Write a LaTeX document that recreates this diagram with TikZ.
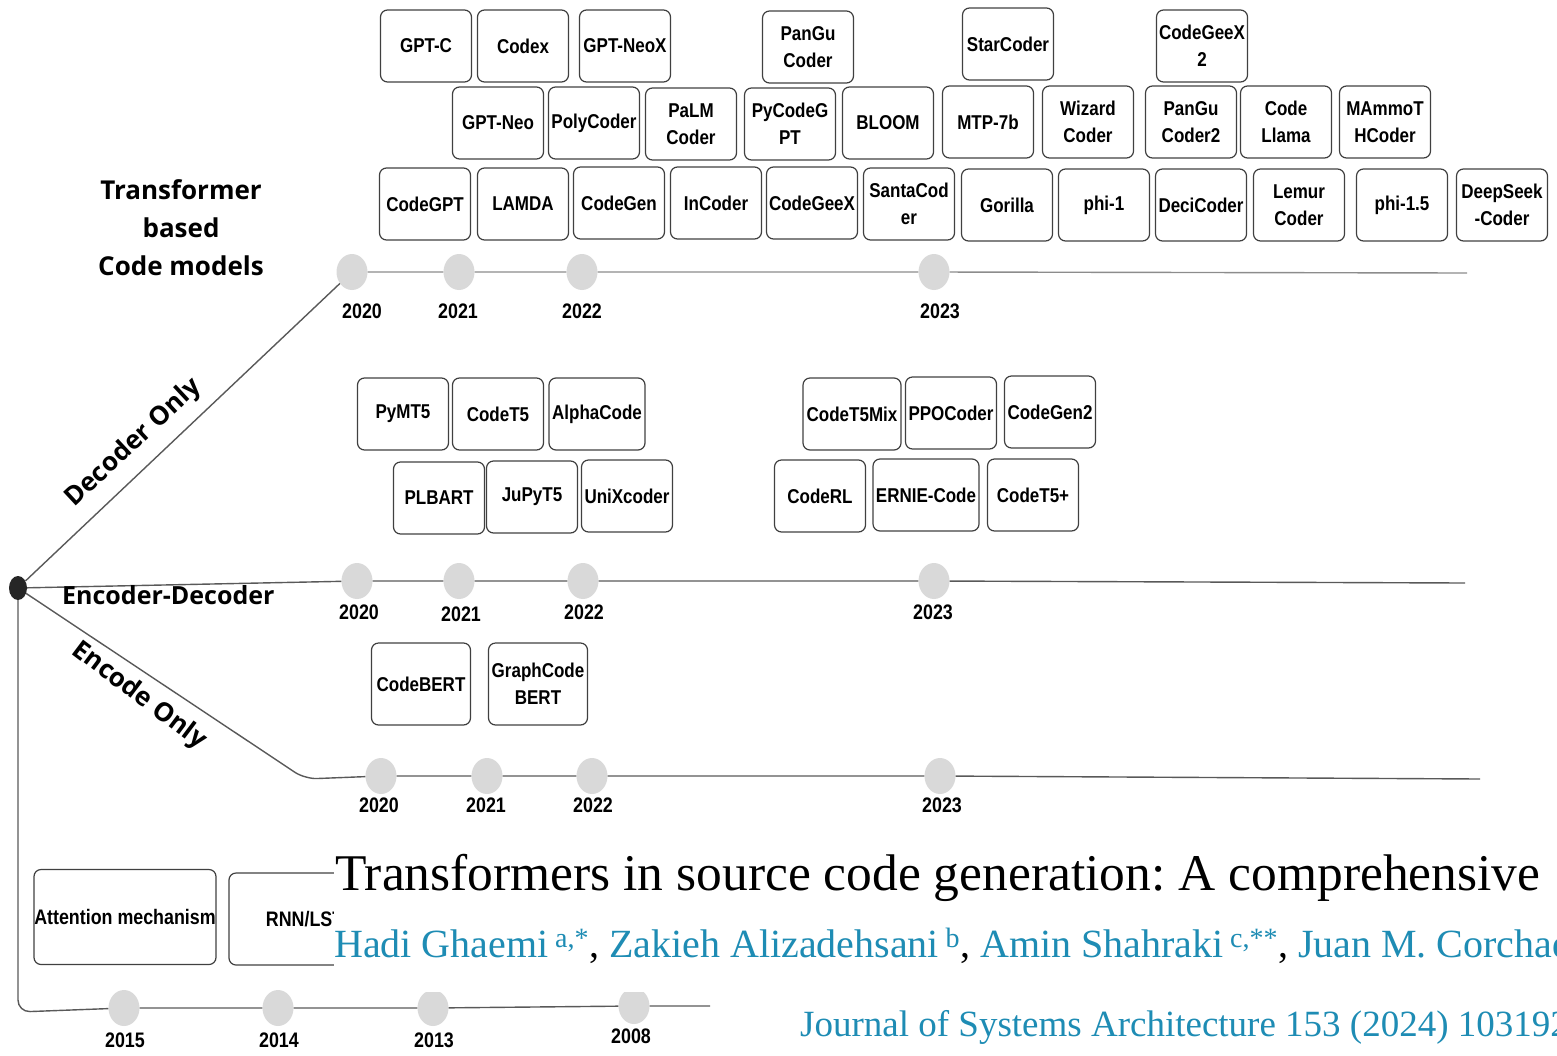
\documentclass[tikz,border=0pt]{standalone}
\usepackage{fontspec}
\usetikzlibrary{shapes}
\newfontfamily\boxfont[FakeStretch=0.85]{Liberation Sans}
\newfontfamily\headfont{Open Sans}
\newfontfamily\paperfont{Liberation Serif}
\definecolor{linkblue}{HTML}{1E8CB4}
\definecolor{dotgray}{HTML}{D9D9D9}

\begin{document}
\begin{tikzpicture}[x=1pt,y=-1pt,
      every node/.style={inner sep=0pt},
      model/.style={draw=black!75,line width=1.2pt,rounded corners=7pt,
        minimum width=91pt,minimum height=72pt,align=center,
        font=\boxfont\bfseries\fontsize{20}{27}\selectfont},
      dot/.style={ellipse,fill=dotgray,minimum width=31pt,minimum height=36pt},
      yr/.style={font=\boxfont\bfseries\fontsize{21}{24}\selectfont},
      head/.style={font=\headfont\bfseries\fontsize{26}{38}\selectfont,align=center},
      tl/.style={draw=black!65,line width=1.4pt}]
    \useasboundingbox (0,0) rectangle (1557,1055);

    % decoder only
    \node[model] (gptc) at (426,46) {GPT-C};
    \node[model] (codex) at (523,46) {Codex};
    \node[model] (gptneox) at (625,46) {GPT-NeoX};
    \node[model] (pangu) at (808,47) {PanGu\\Coder};
    \node[model] (starcoder) at (1008,44) {StarCoder};
    \node[model] (geextwo) at (1202,46) {CodeGeeX\\2};
    \node[model] (gptneo) at (498,123) {GPT-Neo};
    \node[model] (polycoder) at (594,123) {PolyCoder};
    \node[model] (palm) at (691,124) {PaLM\\Coder};
    \node[model] (pycodegpt) at (790,124) {PyCodeG\\PT};
    \node[model] (bloom) at (888,123) {BLOOM};
    \node[model] (mtp) at (988,122) {MTP-7b};
    \node[model] (wizard) at (1088,122) {Wizard\\Coder};
    \node[model] (pangutwo) at (1191,122) {PanGu\\Coder2};
    \node[model] (llama) at (1286,122) {Code\\Llama};
    \node[model] (mammoth) at (1385,122) {MAmmoT\\HCoder};
    \node[model] (codegpt) at (425,204) {CodeGPT};
    \node[model] (lamda) at (523,204) {LAMDA};
    \node[model] (codegen) at (619,203) {CodeGen};
    \node[model] (incoder) at (716,203) {InCoder};
    \node[model] (codegeex) at (812,203) {CodeGeeX};
    \node[model] (santa) at (909,204) {SantaCod\\er};
    \node[model] (gorilla) at (1007,205) {Gorilla};
    \node[model] (phione) at (1104,205) {phi-1};
    \node[model] (deci) at (1201,205) {DeciCoder};
    \node[model] (lemur) at (1299,205) {Lemur\\Coder};
    \node[model] (phionefive) at (1402,205) {phi-1.5};
    \node[model] (deepseek) at (1502,205) {DeepSeek\\-Coder};

    % encoder-decoder
    \node[model] (pymt) at (403,414) {PyMT5};
    \node[model] (codetf) at (498,414) {CodeT5};
    \node[model,minimum width=96pt] (alphacode) at (597,414) {AlphaCode};
    \node[model,minimum width=98pt] (codetfmix) at (852,414) {CodeT5Mix};
    \node[model] (ppocoder) at (951,413) {PPOCoder};
    \node[model] (codegentwo) at (1050,412) {CodeGen2};
    \node[model] (plbart) at (439,498) {PLBART};
    \node[model] (jupytf) at (532,497) {JuPyT5};
    \node[model] (unixcoder) at (627,496) {UniXcoder};
    \node[model] (coderl) at (820,496) {CodeRL};
    \node[model,minimum width=106pt] (ernie) at (926,495) {ERNIE-Code};
    \node[model] (codetfplus) at (1033,495) {CodeT5+};

    % encoder only
    \node[model,minimum width=99pt,minimum height=82pt] (codebert) at (421,684) {CodeBERT};
    \node[model,minimum width=99pt,minimum height=82pt] (graphbert) at (538,684) {GraphCode\\BERT};

    % before transformers
    \node[model,minimum width=182pt,minimum height=95pt,
      font=\boxfont\bfseries\fontsize{21}{22}\selectfont] (attention) at (125,917) {Attention mechanism};
    \node[model,minimum width=166pt,minimum height=92pt,
      font=\boxfont\bfseries\fontsize{21}{22}\selectfont] (rnn) at (312,919) {RNN/LSTM};

    % time lines
    \node[ellipse,fill=black!85,minimum width=18pt,minimum height=24pt] (root) at (18,588) {};

    \node[dot] (dtwenty) at (352,272) {};
    \node[dot] (dtwentyone) at (459,272) {};
    \node[dot] (dtwentytwo) at (582,272) {};
    \node[dot] (dtwentythree) at (934,272) {};
    \coordinate (dend) at (1467,273);
    \draw[tl] (root) -- (dtwenty);
    \draw[tl,draw=black!45] (dtwenty) -- (dtwentyone) -- (dtwentytwo) -- (dtwentythree) -- (dend);

    \node[dot] (etwenty) at (357,581) {};
    \node[dot] (etwentyone) at (459,581) {};
    \node[dot] (etwentytwo) at (583,581) {};
    \node[dot] (etwentythree) at (934,581) {};
    \coordinate (eend) at (1465,583);
    \draw[tl] (root) -- (etwenty) -- (etwentyone) -- (etwentytwo) -- (etwentythree) -- (eend);

    \node[dot] (ntwenty) at (381,776) {};
    \node[dot] (ntwentyone) at (487,776) {};
    \node[dot] (ntwentytwo) at (592,776) {};
    \node[dot] (ntwentythree) at (940,776) {};
    \coordinate (ncorner) at (305,779);
    \coordinate (nend) at (1480,779);
    \draw[tl,rounded corners=12pt] (root) -- (ncorner) -- (ntwenty);
    \draw[tl] (ntwenty) -- (ntwentyone) -- (ntwentytwo) -- (ntwentythree) -- (nend);

    \node[dot] (bfifteen) at (124,1008) {};
    \node[dot] (bfourteen) at (278,1008) {};
    \node[dot] (bthirteen) at (433,1008) {};
    \node[dot] (beight) at (634,1006) {};
    \coordinate (bcorner) at (18,1012);
    \coordinate (bend) at (710,1006);
    \draw[tl,rounded corners=12pt] (root) -- (bcorner) -- (bfifteen);
    \draw[tl] (bfifteen) -- (bfourteen) -- (bthirteen) -- (beight) -- (bend);

    % years
    \node[yr] (ydtwenty) at (362,311) {2020};
    \node[yr] (ydtwentyone) at (458,311) {2021};
    \node[yr] (ydtwentytwo) at (582,311) {2022};
    \node[yr] (ydtwentythree) at (940,311) {2023};
    \node[yr] (yetwenty) at (359,612) {2020};
    \node[yr] (yetwentyone) at (461,614) {2021};
    \node[yr] (yetwentytwo) at (584,612) {2022};
    \node[yr] (yetwentythree) at (933,612) {2023};
    \node[yr] (yntwenty) at (379,805) {2020};
    \node[yr] (yntwentyone) at (486,805) {2021};
    \node[yr] (yntwentytwo) at (593,805) {2022};
    \node[yr] (yntwentythree) at (942,805) {2023};
    \node[yr] (ybfifteen) at (125,1040) {2015};
    \node[yr] (ybfourteen) at (279,1040) {2014};
    \node[yr] (ybthirteen) at (434,1040) {2013};
    \node[yr] (ybeight) at (631,1036) {2008};

    % headings
    \node[head] (tbased) at (181,228) {Transformer\\based\\Code models};
    \node[head,anchor=west,font=\headfont\bfseries\fontsize{25}{30}\selectfont] (encdec) at (62,595) {Encoder-Decoder};
    \node[head,rotate=43] (deconly) at (134,443) {Decoder Only};
    \node[head,rotate=-37] (enconly) at (139,696) {Encode Only};

    % paper header
    \fill[white] (334,842) rectangle (1557,992);
    \begin{scope}
      \clip (334,842) rectangle (1557,1055);
      \node[anchor=base west,font=\paperfont\fontsize{51.5}{52}\selectfont\frenchspacing] (title) at (335,890)
        {Transformers in source code generation: A comprehensive};
      \node[anchor=base west,font=\paperfont\fontsize{40}{40}\selectfont] (authors) at (334,957)
        {\textcolor{linkblue}{Hadi Ghaemi\,\textsuperscript{a,*}}, \textcolor{linkblue}{Zakieh Alizadehsani\,\textsuperscript{b}}, \textcolor{linkblue}{Amin Shahraki\,\textsuperscript{c,**}}, \textcolor{linkblue}{Juan M. Corchado}};
      \node[anchor=base west,text=linkblue,font=\paperfont\fontsize{37}{37}\selectfont] (journal) at (800,1036)
        {Journal of Systems Architecture 153 (2024) 103192};
    \end{scope}
  \end{tikzpicture}
\end{document}
